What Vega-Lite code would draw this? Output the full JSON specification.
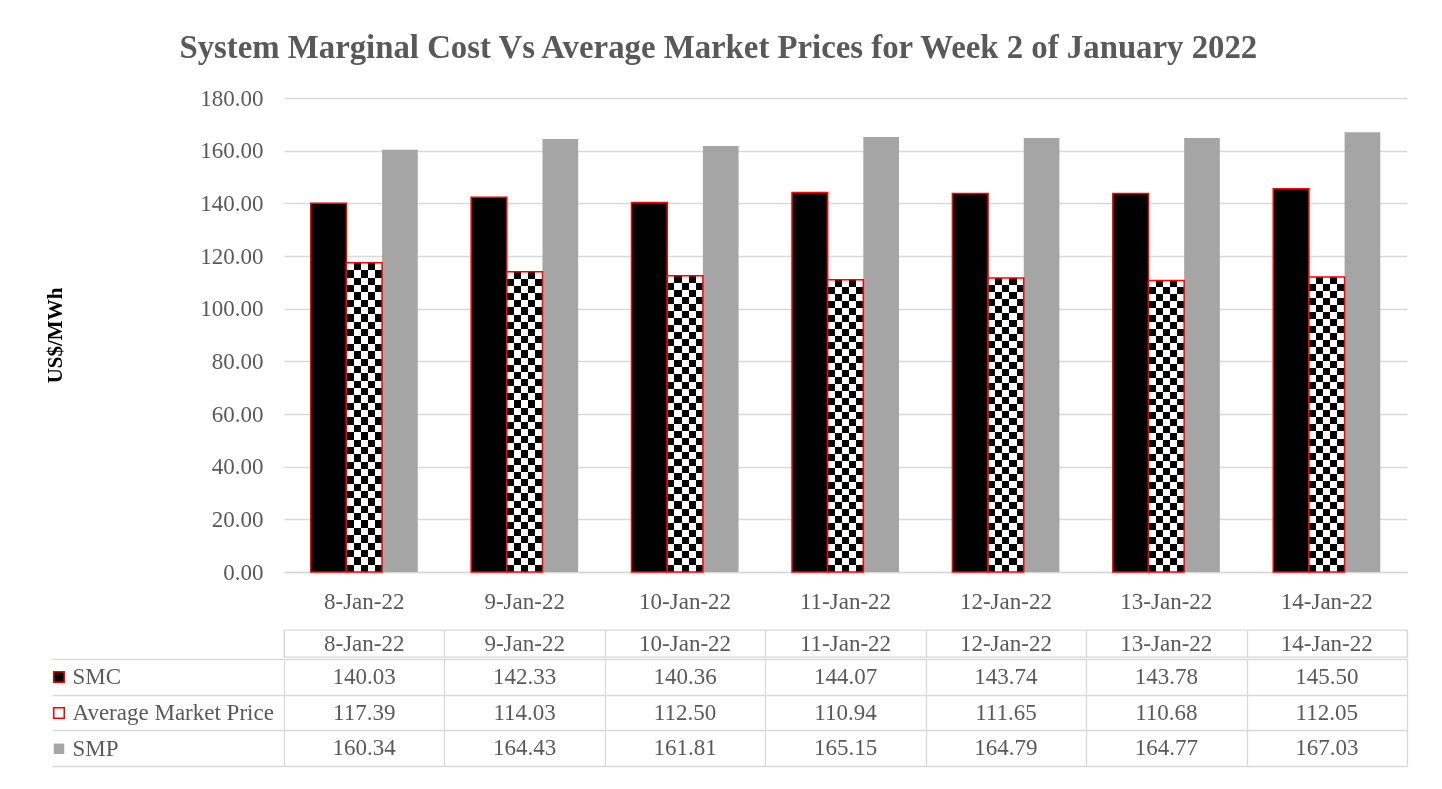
{
  "$schema": "https://vega.github.io/schema/vega-lite/v6.json",
  "autosize": {"type": "pad"},
  "padding": {"left": 41, "top": 32, "right": 10, "bottom": 5},
  "spacing": 0,
  "resolve": {"scale": {"color": "independent"}, "legend": {"color": "independent"}},
  "title": {"text": "System Marginal Cost Vs Average Market Prices for Week 2 of January 2022", "font": "Liberation Serif", "fontSize": 32.8, "fontWeight": "bold", "color": "#595959", "anchor": "middle", "offset": 22, "dx": -6},
  "config": {"view": {"stroke": null}, "font": "Liberation Serif"},
  "datasets": {
    "prices": [
      {"date": "8-Jan-22", "series": "SMC", "value": 140.03},
      {"date": "9-Jan-22", "series": "SMC", "value": 142.33},
      {"date": "10-Jan-22", "series": "SMC", "value": 140.36},
      {"date": "11-Jan-22", "series": "SMC", "value": 144.07},
      {"date": "12-Jan-22", "series": "SMC", "value": 143.74},
      {"date": "13-Jan-22", "series": "SMC", "value": 143.78},
      {"date": "14-Jan-22", "series": "SMC", "value": 145.50},
      {"date": "8-Jan-22", "series": "Average Market Price", "value": 117.39},
      {"date": "9-Jan-22", "series": "Average Market Price", "value": 114.03},
      {"date": "10-Jan-22", "series": "Average Market Price", "value": 112.50},
      {"date": "11-Jan-22", "series": "Average Market Price", "value": 110.94},
      {"date": "12-Jan-22", "series": "Average Market Price", "value": 111.65},
      {"date": "13-Jan-22", "series": "Average Market Price", "value": 110.68},
      {"date": "14-Jan-22", "series": "Average Market Price", "value": 112.05},
      {"date": "8-Jan-22", "series": "SMP", "value": 160.34},
      {"date": "9-Jan-22", "series": "SMP", "value": 164.43},
      {"date": "10-Jan-22", "series": "SMP", "value": 161.81},
      {"date": "11-Jan-22", "series": "SMP", "value": 165.15},
      {"date": "12-Jan-22", "series": "SMP", "value": 164.79},
      {"date": "13-Jan-22", "series": "SMP", "value": 164.77},
      {"date": "14-Jan-22", "series": "SMP", "value": 167.03}
    ]
  },
  "vconcat": [
    {
      "width": 1123,
      "height": 474,
      "data": {"name": "prices"},
      "encoding": {
        "x": {"field": "date", "type": "nominal", "sort": null,
          "scale": {"paddingInner": 0.333, "paddingOuter": 0.1667},
          "axis": {"title": " ", "titleFontSize": 10, "titlePadding": 6, "labelAngle": 0, "labelFont": "Liberation Serif", "labelFontSize": 23, "labelColor": "#595959", "labelPadding": 18, "ticks": false, "domain": true, "domainColor": "#d9d9d9", "domainWidth": 1.3}},
        "xOffset": {"field": "series", "type": "nominal", "scale": {"domain": ["SMC", "Average Market Price", "SMP"], "paddingInner": 0, "paddingOuter": 0}},
        "y": {"field": "value", "type": "quantitative",
          "scale": {"domain": [0, 180], "nice": false},
          "axis": {"title": "US$/MWh", "titleFont": "Liberation Serif", "titleFontSize": 21, "titleFontWeight": "bold", "titleColor": "#000000", "titlePadding": 134, "values": [0, 20, 40, 60, 80, 100, 120, 140, 160, 180], "format": ".2f", "labelFont": "Liberation Serif", "labelFontSize": 23, "labelColor": "#595959", "labelPadding": 21, "ticks": false, "domain": false, "grid": true, "gridColor": "#d9d9d9", "gridWidth": 1.3}}
      },
      "layer": [
        {"transform": [{"filter": "datum.series === 'SMC'"}], "mark": {"type": "bar", "fill": "#000000", "stroke": "#ff0000", "strokeWidth": 1.5}},
        {"transform": [{"filter": "datum.series === 'SMP'"}], "mark": {"type": "bar", "fill": "#a5a5a5"}},
        {"transform": [{"filter": "datum.series === 'Average Market Price'"}], "mark": {"type": "bar", "fill": {"gradient": "linear", "x1": 0, "y1": 0, "x2": 0, "y2": 1, "stops": [
          {"offset": 0, "color": "#000"}, {"offset": 0.0238, "color": "#000"},
          {"offset": 0.0238, "color": "#fff"}, {"offset": 0.0476, "color": "#fff"},
          {"offset": 0.0476, "color": "#000"}, {"offset": 0.0714, "color": "#000"},
          {"offset": 0.0714, "color": "#fff"}, {"offset": 0.0952, "color": "#fff"},
          {"offset": 0.0952, "color": "#000"}, {"offset": 0.1190, "color": "#000"},
          {"offset": 0.1190, "color": "#fff"}, {"offset": 0.1429, "color": "#fff"},
          {"offset": 0.1429, "color": "#000"}, {"offset": 0.1667, "color": "#000"},
          {"offset": 0.1667, "color": "#fff"}, {"offset": 0.1905, "color": "#fff"},
          {"offset": 0.1905, "color": "#000"}, {"offset": 0.2143, "color": "#000"},
          {"offset": 0.2143, "color": "#fff"}, {"offset": 0.2381, "color": "#fff"},
          {"offset": 0.2381, "color": "#000"}, {"offset": 0.2619, "color": "#000"},
          {"offset": 0.2619, "color": "#fff"}, {"offset": 0.2857, "color": "#fff"},
          {"offset": 0.2857, "color": "#000"}, {"offset": 0.3095, "color": "#000"},
          {"offset": 0.3095, "color": "#fff"}, {"offset": 0.3333, "color": "#fff"},
          {"offset": 0.3333, "color": "#000"}, {"offset": 0.3571, "color": "#000"},
          {"offset": 0.3571, "color": "#fff"}, {"offset": 0.3810, "color": "#fff"},
          {"offset": 0.3810, "color": "#000"}, {"offset": 0.4048, "color": "#000"},
          {"offset": 0.4048, "color": "#fff"}, {"offset": 0.4286, "color": "#fff"},
          {"offset": 0.4286, "color": "#000"}, {"offset": 0.4524, "color": "#000"},
          {"offset": 0.4524, "color": "#fff"}, {"offset": 0.4762, "color": "#fff"},
          {"offset": 0.4762, "color": "#000"}, {"offset": 0.5, "color": "#000"},
          {"offset": 0.5, "color": "#fff"}, {"offset": 0.5238, "color": "#fff"},
          {"offset": 0.5238, "color": "#000"}, {"offset": 0.5476, "color": "#000"},
          {"offset": 0.5476, "color": "#fff"}, {"offset": 0.5714, "color": "#fff"},
          {"offset": 0.5714, "color": "#000"}, {"offset": 0.5952, "color": "#000"},
          {"offset": 0.5952, "color": "#fff"}, {"offset": 0.6190, "color": "#fff"},
          {"offset": 0.6190, "color": "#000"}, {"offset": 0.6429, "color": "#000"},
          {"offset": 0.6429, "color": "#fff"}, {"offset": 0.6667, "color": "#fff"},
          {"offset": 0.6667, "color": "#000"}, {"offset": 0.6905, "color": "#000"},
          {"offset": 0.6905, "color": "#fff"}, {"offset": 0.7143, "color": "#fff"},
          {"offset": 0.7143, "color": "#000"}, {"offset": 0.7381, "color": "#000"},
          {"offset": 0.7381, "color": "#fff"}, {"offset": 0.7619, "color": "#fff"},
          {"offset": 0.7619, "color": "#000"}, {"offset": 0.7857, "color": "#000"},
          {"offset": 0.7857, "color": "#fff"}, {"offset": 0.8095, "color": "#fff"},
          {"offset": 0.8095, "color": "#000"}, {"offset": 0.8333, "color": "#000"},
          {"offset": 0.8333, "color": "#fff"}, {"offset": 0.8571, "color": "#fff"},
          {"offset": 0.8571, "color": "#000"}, {"offset": 0.8810, "color": "#000"},
          {"offset": 0.8810, "color": "#fff"}, {"offset": 0.9048, "color": "#fff"},
          {"offset": 0.9048, "color": "#000"}, {"offset": 0.9286, "color": "#000"},
          {"offset": 0.9286, "color": "#fff"}, {"offset": 0.9524, "color": "#fff"},
          {"offset": 0.9524, "color": "#000"}, {"offset": 0.9762, "color": "#000"},
          {"offset": 0.9762, "color": "#fff"}, {"offset": 1, "color": "#fff"}
        ]}}},
        {"transform": [{"filter": "datum.series === 'Average Market Price'"}], "mark": {"type": "bar", "blend": "difference", "fill": {"gradient": "linear", "x1": 0, "y1": 0, "x2": 1, "y2": 0, "stops": [
          {"offset": 0, "color": "#fff"}, {"offset": 0.2, "color": "#fff"},
          {"offset": 0.2, "color": "rgba(0,0,0,0)"}, {"offset": 0.4, "color": "rgba(0,0,0,0)"},
          {"offset": 0.4, "color": "#fff"}, {"offset": 0.6, "color": "#fff"},
          {"offset": 0.6, "color": "rgba(0,0,0,0)"}, {"offset": 0.8, "color": "rgba(0,0,0,0)"},
          {"offset": 0.8, "color": "#fff"}, {"offset": 1, "color": "#fff"}
        ]}}},
        {"transform": [{"filter": "datum.series === 'Average Market Price'"}], "mark": {"type": "bar", "fill": null, "fillOpacity": 0, "stroke": "#ff0000", "strokeWidth": 1.5}}
      ]
    },
    {
      "width": 1123,
      "height": 27,
      "view": {"stroke": "#d9d9d9", "strokeWidth": 1.3},
      "data": {"name": "prices"},
      "transform": [{"filter": "datum.series === 'SMC'"}],
      "mark": {"type": "text", "font": "Liberation Serif", "fontSize": 23, "color": "#595959"},
      "encoding": {
        "x": {"field": "date", "type": "nominal", "sort": null, "scale": {"paddingInner": 0, "paddingOuter": 0},
          "axis": {"title": null, "labels": false, "ticks": false, "domain": false, "grid": true, "tickBand": "extent", "gridColor": "#d9d9d9", "gridWidth": 1.3}},
        "text": {"field": "date"}
      }
    },
    {
      "width": 1123,
      "height": 107,
      "data": {"name": "prices"},
      "encoding": {
        "x": {"field": "date", "type": "nominal", "sort": null, "scale": {"paddingInner": 0, "paddingOuter": 0},
          "axis": {"title": null, "labels": false, "ticks": false, "domain": false, "grid": true, "tickBand": "extent", "gridColor": "#d9d9d9", "gridWidth": 1.3}},
        "y": {"field": "series", "type": "nominal", "scale": {"domain": ["SMC", "Average Market Price", "SMP"], "paddingInner": 0, "paddingOuter": 0},
          "axis": {"title": null, "labels": false, "ticks": true, "tickSize": 232, "tickColor": "#d9d9d9", "tickWidth": 1.3, "domain": false, "grid": true, "tickBand": "extent", "gridColor": "#d9d9d9", "gridWidth": 1.3}}
      },
      "layer": [
        {
          "mark": {"type": "square", "opacity": 0, "filled": true},
          "encoding": {
            "color": {"field": "series", "type": "nominal",
              "scale": {"domain": ["SMC", "Average Market Price", "SMP"], "range": ["#000000", "#ffffff", "#a5a5a5"]},
              "legend": {"title": null, "orient": "left", "offset": -230, "padding": 6.5, "rowPadding": 11.9, "labelOffset": 2, "labelLimit": 400,
                "labelFont": "Liberation Serif", "labelFontSize": 23, "labelColor": "#595959",
                "symbolType": "square", "symbolSize": 110, "symbolOpacity": 1, "symbolStrokeWidth": 1.5, "symbolStrokeColor": "#ff0000",
                "encoding": {"symbols": {
                  "opacity": {"value": 1},
                  "strokeWidth": {"value": 1.5},
                  "fill": {"value": {"expr": "datum.value === 'SMC' ? '#000000' : datum.value === 'SMP' ? '#a5a5a5' : '#ffffff'"}},
                  "stroke": {"value": {"expr": "datum.value === 'SMP' ? 'transparent' : '#ff0000'"}}
                }}}
            }
          }
        },
        {
          "mark": {"type": "text", "font": "Liberation Serif", "fontSize": 23, "color": "#595959"},
          "encoding": {"text": {"field": "value", "type": "quantitative", "format": ".2f"}}
        }
      ]
    }
  ]
}
